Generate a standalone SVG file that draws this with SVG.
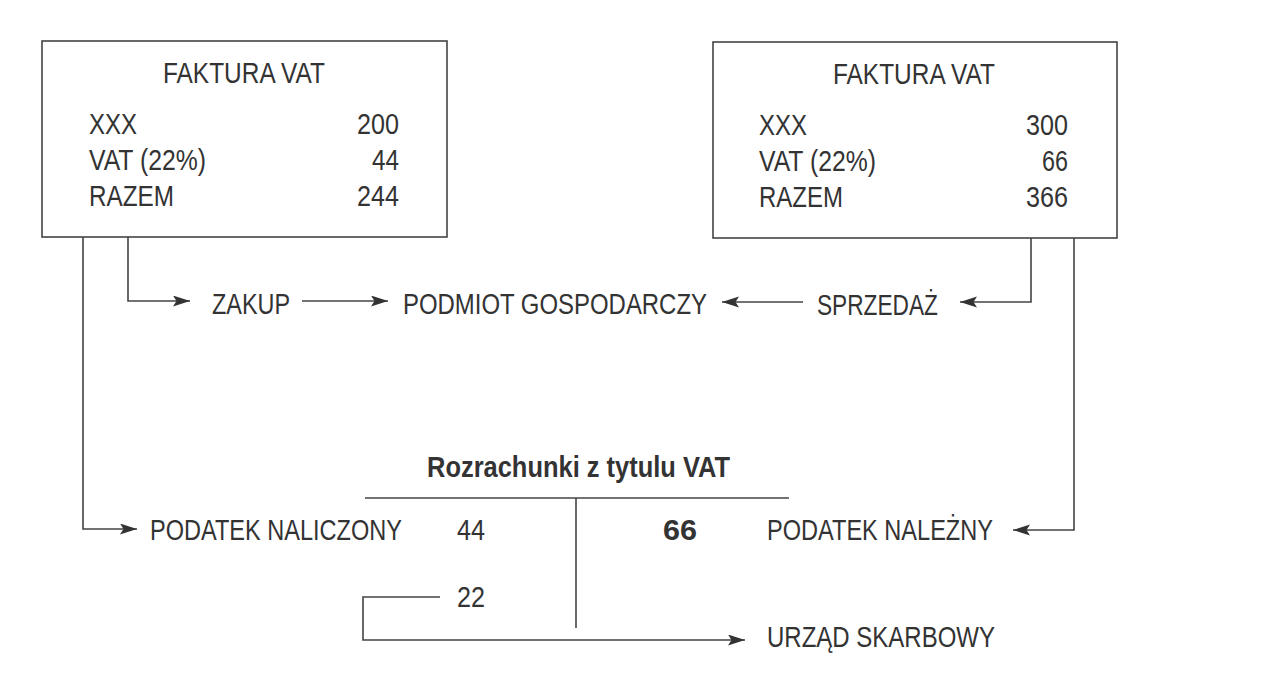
<svg xmlns="http://www.w3.org/2000/svg" width="1278" height="674" viewBox="0 0 1278 674">
  <defs>
    <marker id="arr" markerUnits="userSpaceOnUse" markerWidth="20" markerHeight="14" refX="17" refY="5.5" orient="auto">
      <path d="M0,0 L17,5.5 L0,11 L3.5,5.5 z" fill="#333"/>
    </marker>
    <style>
      text { font-family: "Liberation Sans", Arial, sans-serif; font-size: 30px; fill: #333; }
      .b { font-weight: bold; }
      .box { fill: none; stroke: #444; stroke-width: 1.6; }
      .ln { fill: none; stroke: #444; stroke-width: 1.6; }
      .ar { fill: none; stroke: #444; stroke-width: 1.6; marker-end: url(#arr); }
    </style>
  </defs>
  <rect width="1278" height="674" fill="#ffffff"/>

  <g id="faktura-zakup">
    <rect class="box" x="42" y="41" width="405" height="196"/>
    <text transform="translate(163,83) scale(0.78,1)" textLength="207.7" lengthAdjust="spacingAndGlyphs">FAKTURA VAT</text>
    <text transform="translate(89,134) scale(0.78,1)" textLength="61.5" lengthAdjust="spacingAndGlyphs">XXX</text>
    <text transform="translate(357,134) scale(0.78,1)" textLength="53.8" lengthAdjust="spacingAndGlyphs">200</text>
    <text transform="translate(89,170) scale(0.78,1)" textLength="150" lengthAdjust="spacingAndGlyphs">VAT (22%)</text>
    <text transform="translate(372,170) scale(0.78,1)" textLength="34.6" lengthAdjust="spacingAndGlyphs">44</text>
    <text transform="translate(89,206) scale(0.78,1)" textLength="109" lengthAdjust="spacingAndGlyphs">RAZEM</text>
    <text transform="translate(357,206) scale(0.78,1)" textLength="53.8" lengthAdjust="spacingAndGlyphs">244</text>
  </g>

  <g id="faktura-sprzedaz">
    <rect class="box" x="713" y="42" width="404" height="196"/>
    <text transform="translate(833,84) scale(0.78,1)" textLength="207.7" lengthAdjust="spacingAndGlyphs">FAKTURA VAT</text>
    <text transform="translate(759,135) scale(0.78,1)" textLength="61.5" lengthAdjust="spacingAndGlyphs">XXX</text>
    <text transform="translate(1026,135) scale(0.78,1)" textLength="53.8" lengthAdjust="spacingAndGlyphs">300</text>
    <text transform="translate(759,171) scale(0.78,1)" textLength="150" lengthAdjust="spacingAndGlyphs">VAT (22%)</text>
    <text transform="translate(1042,171) scale(0.78,1)" textLength="33.3" lengthAdjust="spacingAndGlyphs">66</text>
    <text transform="translate(759,207) scale(0.78,1)" textLength="107.7" lengthAdjust="spacingAndGlyphs">RAZEM</text>
    <text transform="translate(1026,207) scale(0.78,1)" textLength="53.8" lengthAdjust="spacingAndGlyphs">366</text>
  </g>

  <g id="zakup"><text transform="translate(212,314) scale(0.78,1)" textLength="100" lengthAdjust="spacingAndGlyphs">ZAKUP</text></g>
  <g id="podmiot"><text transform="translate(403,314) scale(0.78,1)" textLength="389.7" lengthAdjust="spacingAndGlyphs">PODMIOT GOSPODARCZY</text></g>
  <g id="sprzedaz"><text transform="translate(817,315) scale(0.78,1)" textLength="155" lengthAdjust="spacingAndGlyphs">SPRZEDAŻ</text></g>

  <g id="rozrachunki">
    <text class="b" transform="translate(427,477) scale(0.78,1)" textLength="388.5" lengthAdjust="spacingAndGlyphs">Rozrachunki z tytulu VAT</text>
    <line class="ln" x1="365" y1="498" x2="789" y2="498"/>
    <line class="ln" x1="576" y1="498" x2="576" y2="628"/>
    <text transform="translate(457,540) scale(0.78,1)" textLength="35.9" lengthAdjust="spacingAndGlyphs">44</text>
    <text class="b" transform="translate(663,540) scale(0.78,1)" textLength="43.6" lengthAdjust="spacingAndGlyphs">66</text>
    <text transform="translate(457,607) scale(0.78,1)" textLength="35.9" lengthAdjust="spacingAndGlyphs">22</text>
  </g>

  <g id="naliczony"><text transform="translate(150,540) scale(0.78,1)" textLength="323" lengthAdjust="spacingAndGlyphs">PODATEK NALICZONY</text></g>
  <g id="nalezny"><text transform="translate(767,540) scale(0.78,1)" textLength="289.7" lengthAdjust="spacingAndGlyphs">PODATEK NALEŻNY</text></g>
  <g id="urzad"><text transform="translate(767,647) scale(0.78,1)" textLength="292.3" lengthAdjust="spacingAndGlyphs">URZĄD SKARBOWY</text></g>

  <g id="connectors">
    <polyline class="ar" points="128,237 128,301 190,301"/>
    <line class="ar" x1="302" y1="301" x2="388" y2="301"/>
    <polyline class="ar" points="1031,238 1031,302 960,302"/>
    <line class="ar" x1="803" y1="302" x2="722" y2="302"/>
    <polyline class="ar" points="83,237 83,529 137,529"/>
    <polyline class="ar" points="1074,238 1074,530 1013,530"/>
    <polyline class="ar" points="440,597 363,597 363,640 745,640"/>
  </g>
</svg>
